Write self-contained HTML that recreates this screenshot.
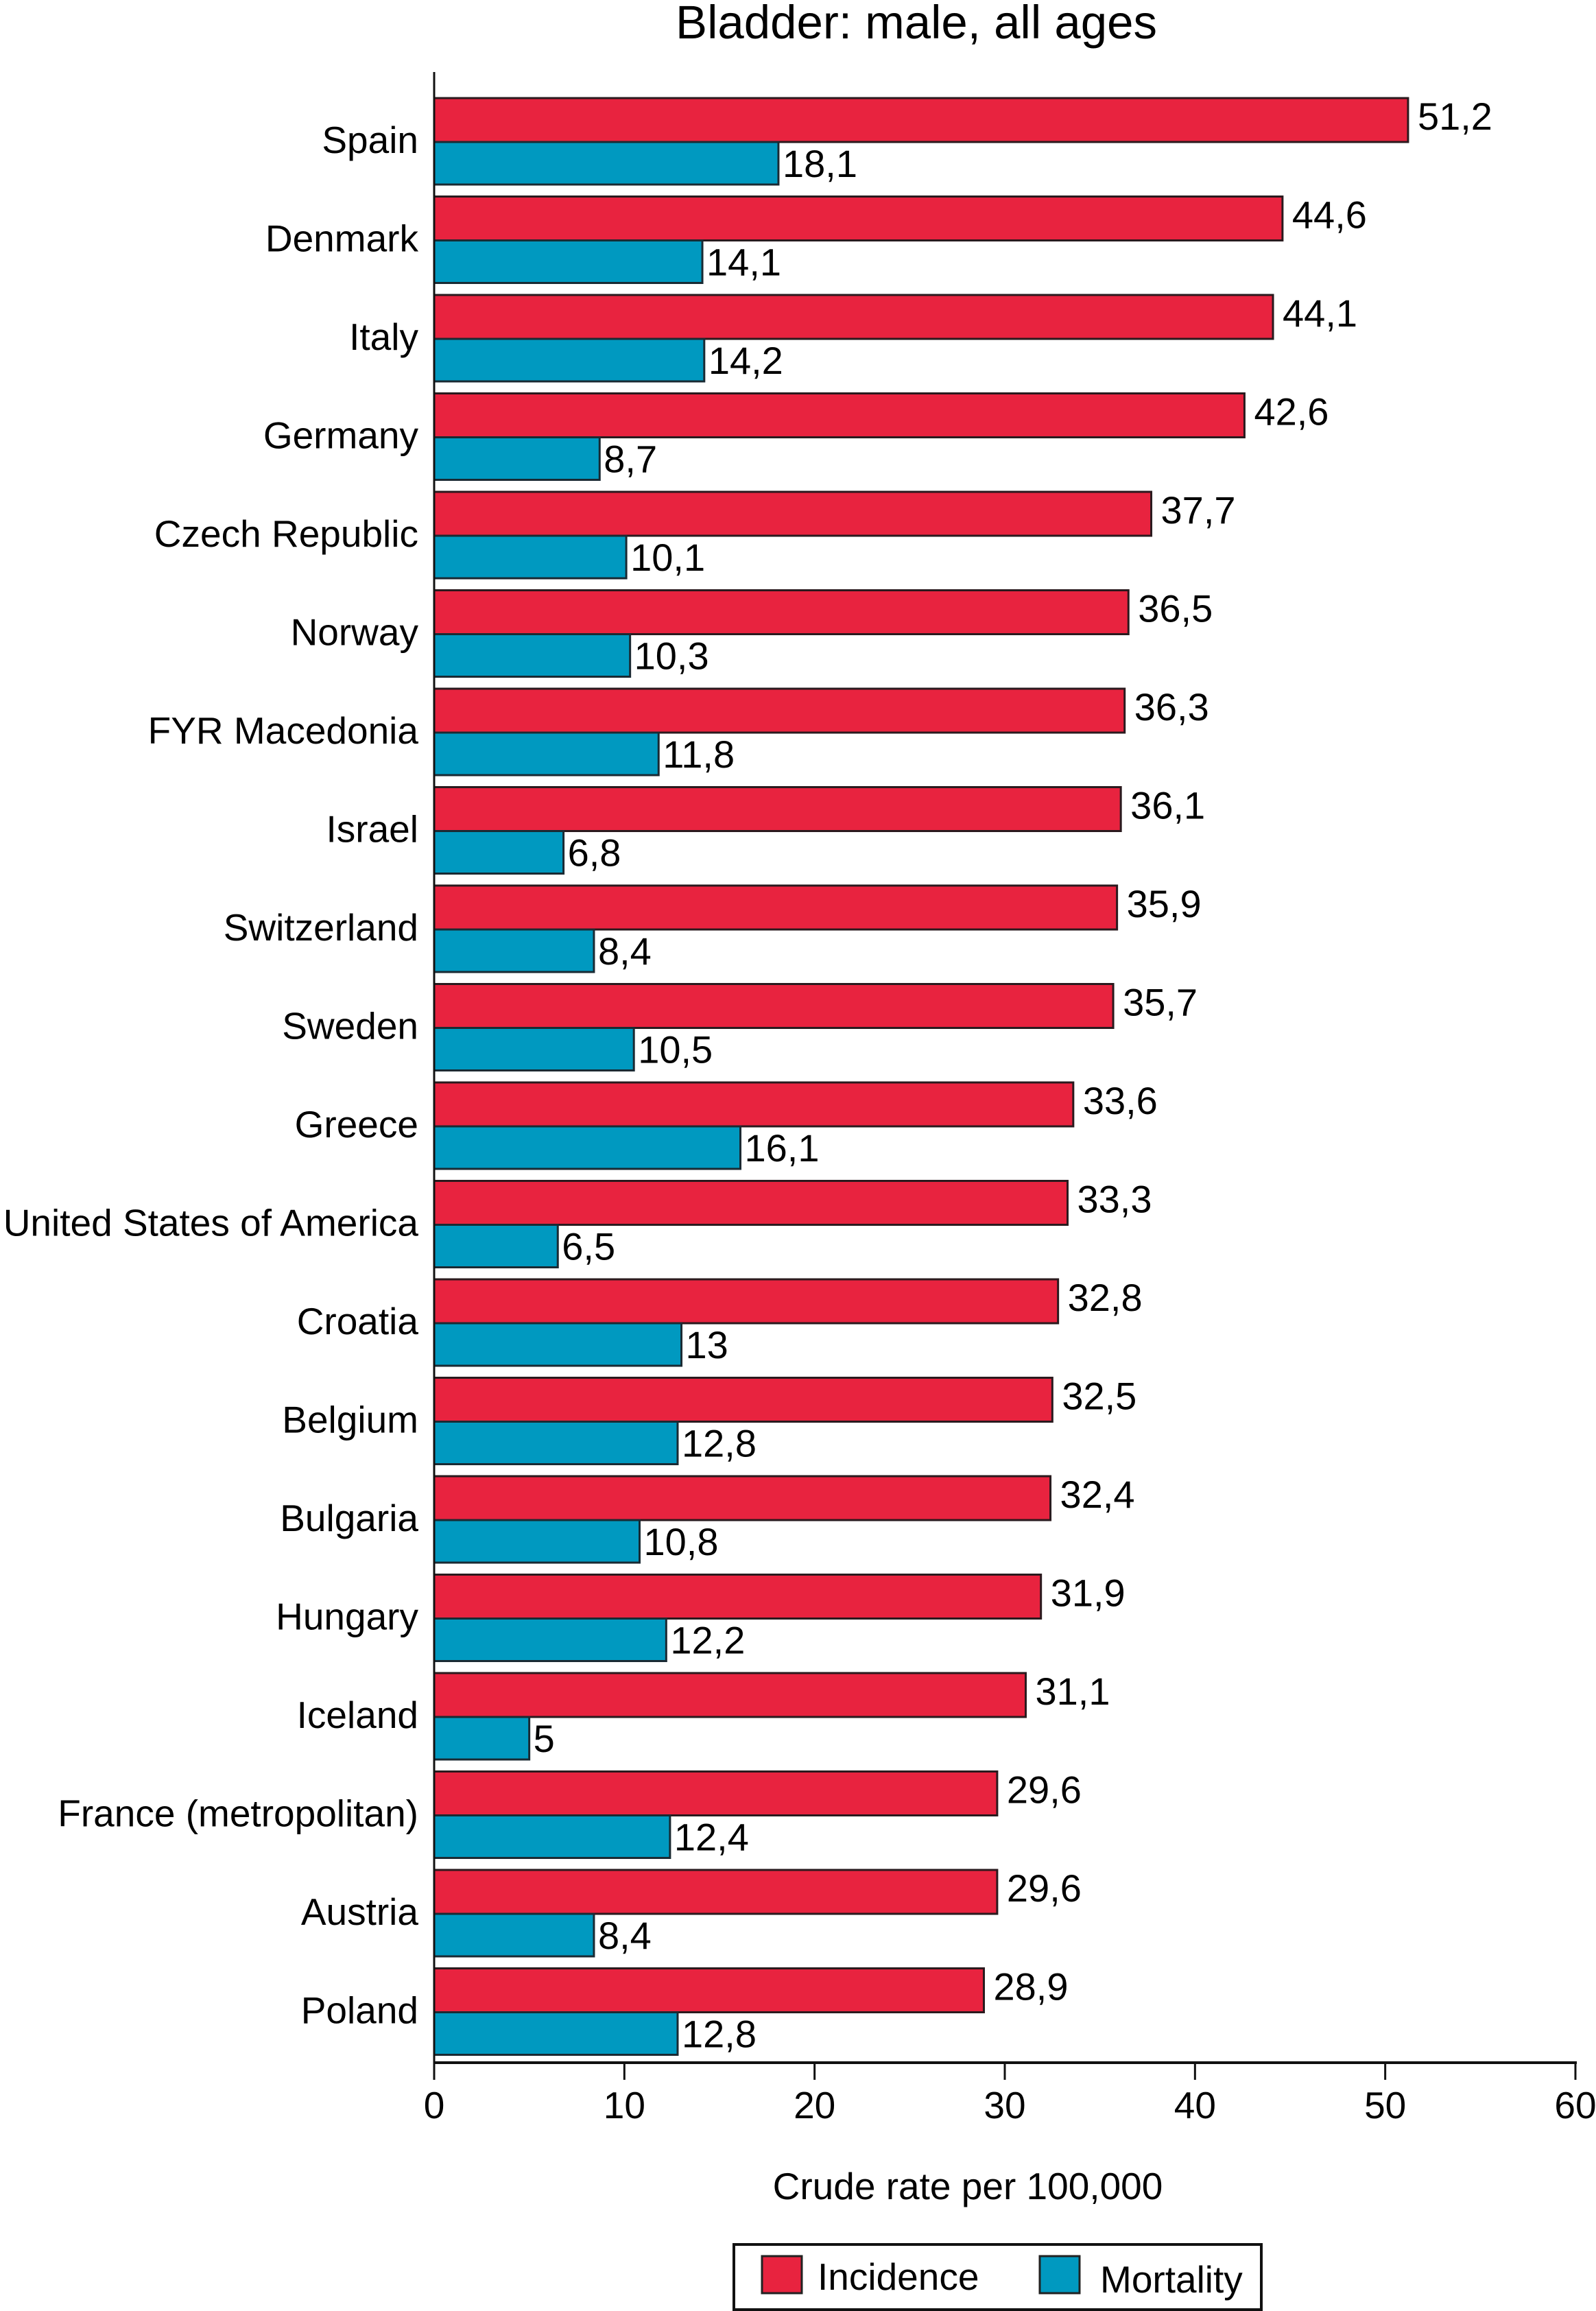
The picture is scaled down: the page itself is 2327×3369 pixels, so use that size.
<!DOCTYPE html>
<html><head><meta charset="utf-8"><style>
html,body{margin:0;padding:0;background:#fff}
svg{display:block;font-family:"Liberation Sans",Arial,sans-serif}
</style></head><body>
<svg id="chart" width="2327" height="3369" viewBox="0 0 2327 3369" xmlns="http://www.w3.org/2000/svg">
<text x="1336" y="56" font-size="69" text-anchor="middle">Bladder: male, all ages</text>
<g id="bars"></g>
<text x="1411" y="3206" font-size="55" text-anchor="middle">Crude rate per 100,000</text>
<g>
<rect x="1070" y="3272" width="769" height="95" fill="#fff" stroke="#111" stroke-width="4"/>
<rect x="1111" y="3289" width="58" height="54" fill="#E8233F" stroke="#222" stroke-width="3"/>
<text x="1192" y="3338" font-size="55">Incidence</text>
<rect x="1516" y="3289" width="58" height="54" fill="#0099C0" stroke="#222" stroke-width="3"/>
<text x="1604" y="3342" font-size="55">Mortality</text>
</g>
</svg>
<script>
const countries=["Spain","Denmark","Italy","Germany","Czech Republic","Norway","FYR Macedonia","Israel","Switzerland","Sweden","Greece","United States of America","Croatia","Belgium","Bulgaria","Hungary","Iceland","France (metropolitan)","Austria","Poland"];
const incidence=[51.2,44.6,44.1,42.6,37.7,36.5,36.3,36.1,35.9,35.7,33.6,33.3,32.8,32.5,32.4,31.9,31.1,29.6,29.6,28.9];
const mortality=[18.1,14.1,14.2,8.7,10.1,10.3,11.8,6.8,8.4,10.5,16.1,6.5,13,12.8,10.8,12.2,5,12.4,8.4,12.8];
const xTicks=[0,10,20,30,40,50,60];
const NS="http://www.w3.org/2000/svg";
const x0=633,x1=2297,xMax=60;
const xs=v=>x0+(v/xMax)*(x1-x0);
const top0=143,step=143.5,hR=64,hB=62;
const g=document.getElementById('bars');
function mk(t,a){const e=document.createElementNS(NS,t);for(const k in a)e.setAttribute(k,a[k]);g.appendChild(e);return e;}
const fmt=v=>String(v).replace('.',',');
countries.forEach((c,i)=>{
  const y=top0+i*step;
  const lab=mk('text',{x:610,y:y+hR+16,'font-size':55,'text-anchor':'end'});lab.textContent=c;
  
  
  const r=mk('rect',{x:x0,y:y,width:xs(incidence[i])-x0,height:hR,fill:'#E8233F',stroke:'#2a1a1e','stroke-width':3});
  
  
  const b=mk('rect',{x:x0,y:y+hR,width:xs(mortality[i])-x0,height:hB,fill:'#0099C0',stroke:'#1a2a33','stroke-width':3});
  
  
  const tv=mk('text',{x:xs(incidence[i])+14,y:y+hR/2+14,'font-size':56});tv.textContent=fmt(incidence[i]);
  
  
  const tm=mk('text',{x:xs(mortality[i])+6,y:y+hR+hB/2+20,'font-size':56});tm.textContent=fmt(mortality[i]);
  
  
});
const ya=mk('line',{x1:x0,y1:105,x2:x0,y2:3009,stroke:'#111','stroke-width':3});


const xa=mk('line',{x1:x0,y1:3007,x2:x1+2,y2:3007,stroke:'#111','stroke-width':4});


xTicks.forEach(t=>{
  const l=mk('line',{x1:xs(t),y1:3007,x2:xs(t),y2:3032,stroke:'#111','stroke-width':3});
  
  
  const tx=mk('text',{x:xs(t),y:3088,'font-size':55,'text-anchor':'middle'});tx.textContent=t;
  
  
});
</script>
</body></html>
